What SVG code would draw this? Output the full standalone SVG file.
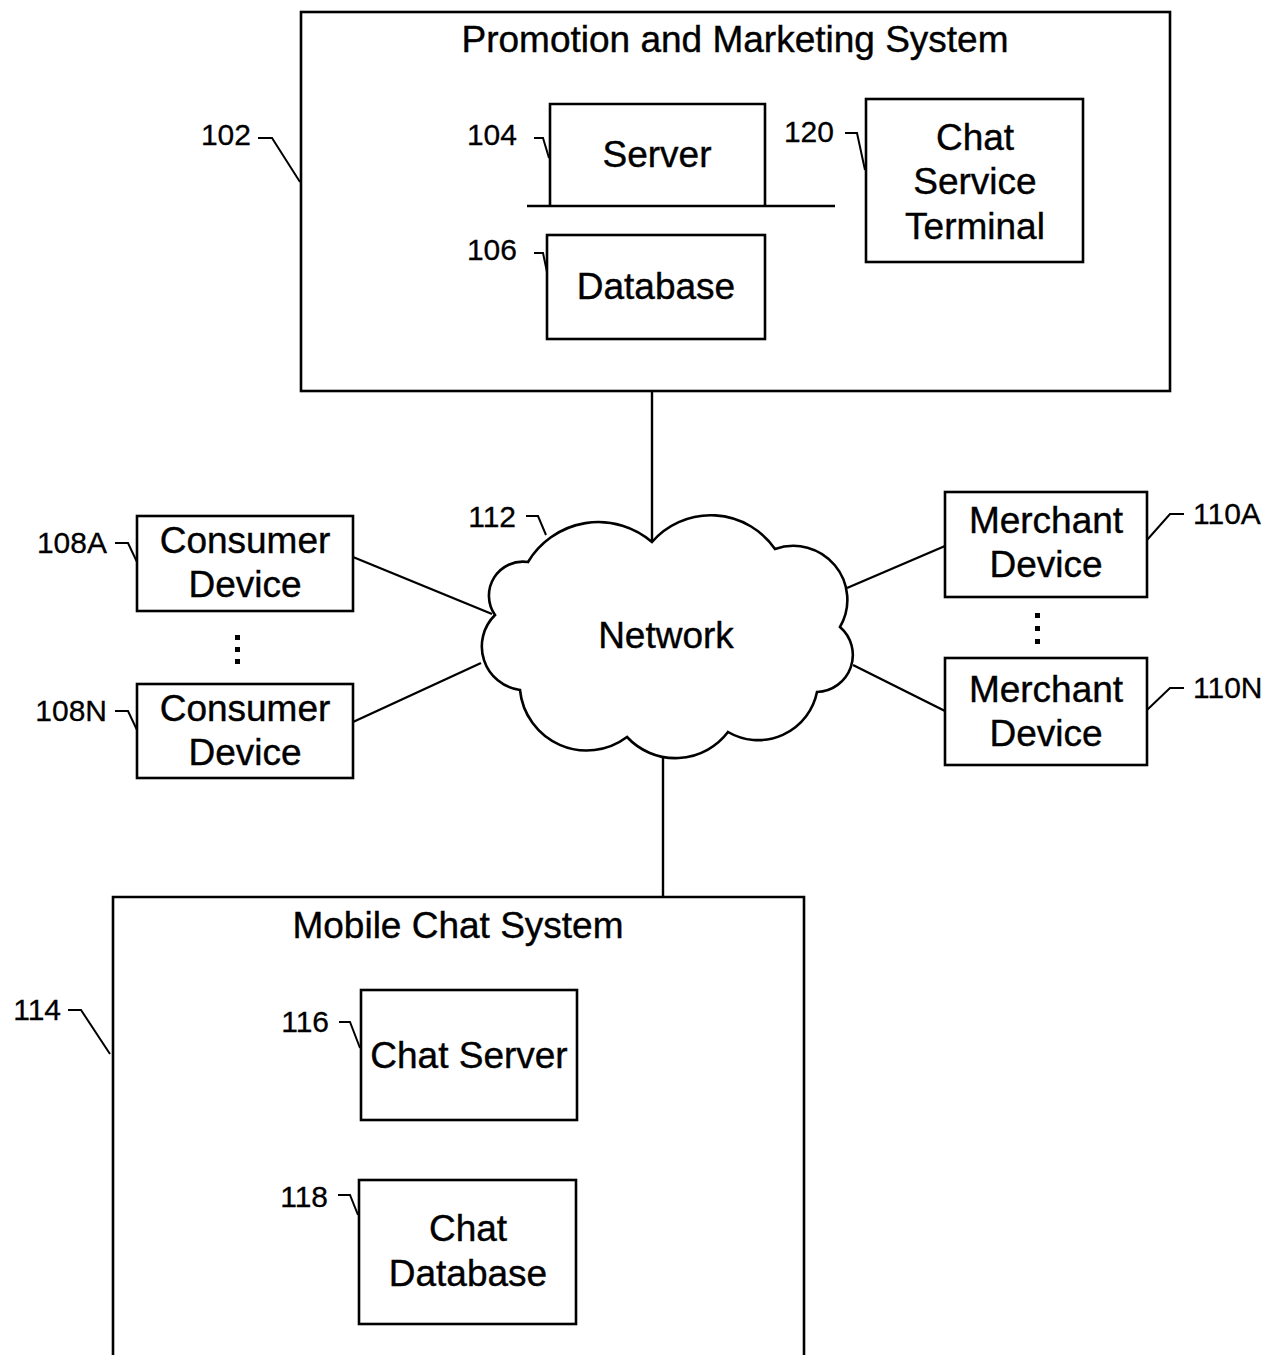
<svg xmlns="http://www.w3.org/2000/svg" width="1274" height="1355" viewBox="0 0 1274 1355">
<style>
.box{fill:none;stroke:#000;stroke-width:2.6}
.ln{fill:none;stroke:#000;stroke-width:2.4}
.hk{fill:none;stroke:#000;stroke-width:2}
.t{font-family:"Liberation Sans",Arial,sans-serif;font-size:37px;fill:#000;stroke:#000;stroke-width:0.4;text-anchor:middle}
.l{font-family:"Liberation Sans",Arial,sans-serif;font-size:30px;fill:#000;stroke:#000;stroke-width:0.3;text-anchor:end}
.ls{font-family:"Liberation Sans",Arial,sans-serif;font-size:30px;fill:#000;stroke:#000;stroke-width:0.3;text-anchor:start}
</style>
<rect width="1274" height="1355" fill="#fff"/>
<g id="connectors">
<line class="ln" x1="652" y1="391" x2="652" y2="542"/>
<line class="ln" x1="663" y1="758" x2="663" y2="897"/>
<line class="ln" x1="353" y1="557" x2="492" y2="614"/>
<line class="ln" x1="353" y1="722" x2="481" y2="663"/>
<line class="ln" x1="945" y1="546" x2="847" y2="588"/>
<line class="ln" x1="945" y1="711" x2="853" y2="665"/>
</g>
<g id="n102">
<rect class="box" x="301" y="12" width="869" height="379"/>
<text class="t" x="735" y="52">Promotion and Marketing System</text>
<text class="l" x="251" y="145">102</text>
<polyline class="hk" points="258,138 272,138 300,182"/>
</g>
<g id="n104">
<polyline class="box" points="550,206 550,104 765,104 765,206"/>
<line class="box" x1="527" y1="206" x2="835" y2="206"/>
<text class="t" x="657" y="167">Server</text>
<text class="l" x="517" y="145">104</text>
<polyline class="hk" points="534,138 543,138 549,158"/>
</g>
<g id="n106">
<rect class="box" x="547" y="235" width="218" height="104"/>
<text class="t" x="656" y="299">Database</text>
<text class="l" x="517" y="260">106</text>
<polyline class="hk" points="534,253 543,253 547,272"/>
</g>
<g id="n120">
<rect class="box" x="866" y="99" width="217" height="163"/>
<text class="t" x="975" y="150">Chat</text>
<text class="t" x="975" y="194">Service</text>
<text class="t" x="975" y="239">Terminal</text>
<text class="l" x="834" y="142">120</text>
<polyline class="hk" points="845,133 857,133 865,170"/>
</g>
<g id="n108A">
<rect class="box" x="137" y="516" width="216" height="95"/>
<text class="t" x="245" y="553">Consumer</text>
<text class="t" x="245" y="597">Device</text>
<text class="l" x="107" y="553">108A</text>
<polyline class="hk" points="115,543 128,543 137,562"/>
</g>
<g id="dots108">
<rect x="235" y="635" width="5" height="5"/>
<rect x="235" y="647" width="5" height="5"/>
<rect x="235" y="659" width="5" height="5"/>
</g>
<g id="n108N">
<rect class="box" x="137" y="684" width="216" height="94"/>
<text class="t" x="245" y="721">Consumer</text>
<text class="t" x="245" y="765">Device</text>
<text class="l" x="107" y="721">108N</text>
<polyline class="hk" points="115,711 128,711 137,730"/>
</g>
<g id="n112">
<path class="box" fill="#fff" d="M652,542 A78,78 0 0 1 775,549 A54,54 0 0 1 840,627 A37,37 0 0 1 817,692 A60,60 0 0 1 728,732 A66,66 0 0 1 627,737 A67,67 0 0 1 520,690 A44,44 0 0 1 495,615 A34,34 0 0 1 528,562 A82,82 0 0 1 652,542 Z"/>
<text class="t" x="666" y="648">Network</text>
<text class="l" x="516" y="527">112</text>
<polyline class="hk" points="526,516 538,516 546,535"/>
</g>
<g id="n110A">
<rect class="box" x="945" y="492" width="202" height="105"/>
<text class="t" x="1046" y="533">Merchant</text>
<text class="t" x="1046" y="577">Device</text>
<text class="ls" x="1193" y="524">110A</text>
<polyline class="hk" points="1147,540 1170,514 1184,514"/>
</g>
<g id="dots110">
<rect x="1035" y="613" width="5" height="5"/>
<rect x="1035" y="626" width="5" height="5"/>
<rect x="1035" y="639" width="5" height="5"/>
</g>
<g id="n110N">
<rect class="box" x="945" y="658" width="202" height="107"/>
<text class="t" x="1046" y="702">Merchant</text>
<text class="t" x="1046" y="746">Device</text>
<text class="ls" x="1193" y="698">110N</text>
<polyline class="hk" points="1147,710 1170,688 1184,688"/>
</g>
<g id="n114">
<polyline class="box" points="113,1355 113,897 804,897 804,1355"/>
<text class="t" x="458" y="938">Mobile Chat System</text>
<text class="l" x="61" y="1020">114</text>
<polyline class="hk" points="68,1010 81,1010 110,1054"/>
</g>
<g id="n116">
<rect class="box" x="361" y="990" width="216" height="130"/>
<text class="t" x="469" y="1068">Chat Server</text>
<text class="l" x="329" y="1032">116</text>
<polyline class="hk" points="339,1022 350,1022 360,1048"/>
</g>
<g id="n118">
<rect class="box" x="359" y="1180" width="217" height="144"/>
<text class="t" x="468" y="1241">Chat</text>
<text class="t" x="468" y="1286">Database</text>
<text class="l" x="328" y="1207">118</text>
<polyline class="hk" points="338,1195 350,1195 358,1215"/>
</g>
</svg>
